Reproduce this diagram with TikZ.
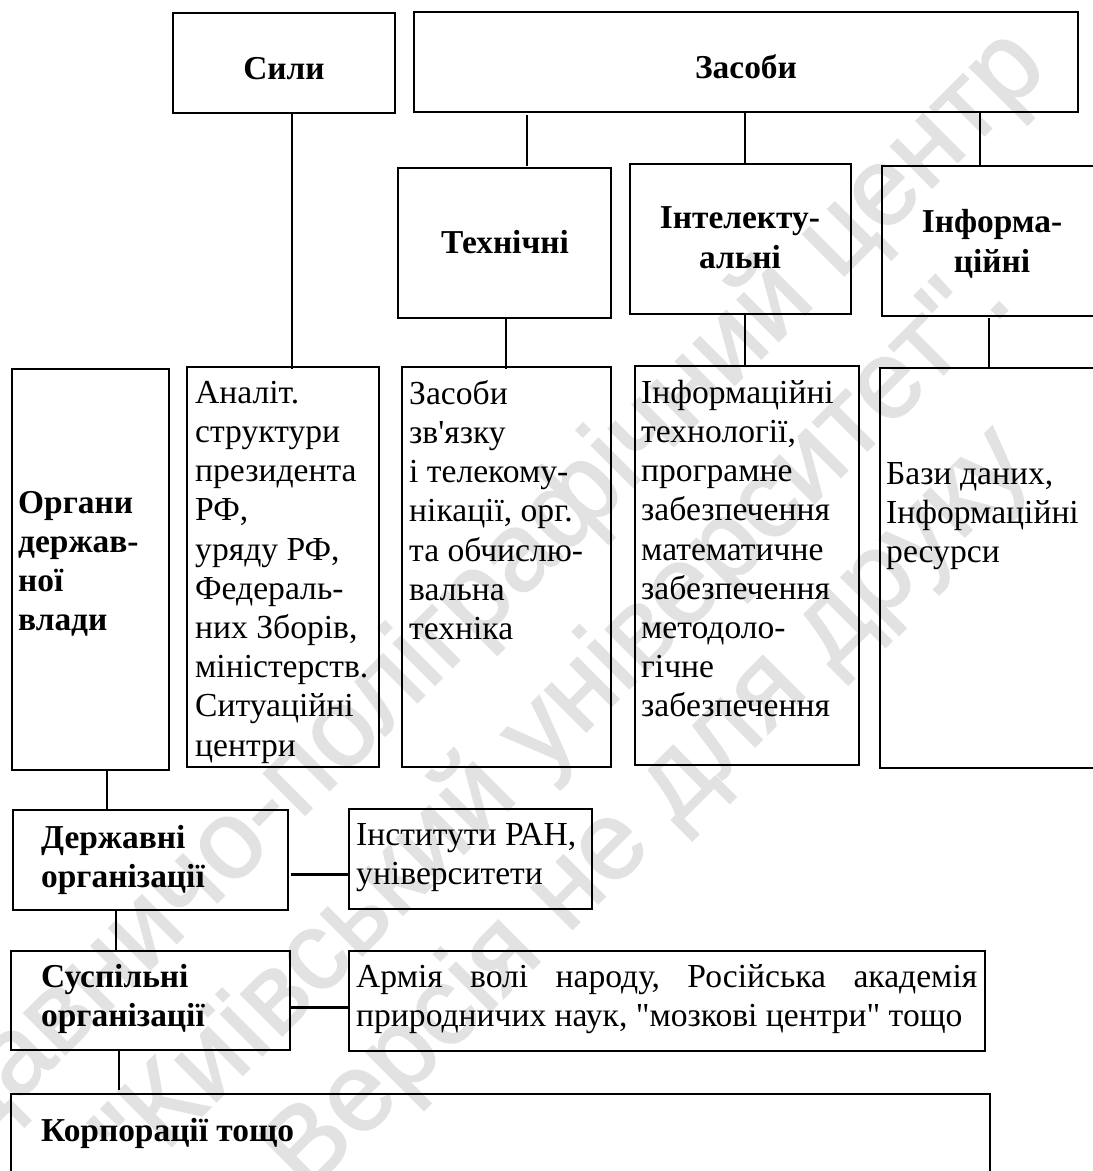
\documentclass[tikz,border=0pt]{standalone}
\usepackage{fontspec}
\setmainfont{Liberation Serif}
\newfontfamily\plainrm{Liberation Serif}
\newfontfamily\wmfont[FakeBold=1.5]{Liberation Sans}
\definecolor{wm}{RGB}{226,226,226}
\newcommand{\tl}{\rule{0pt}{30pt}}
\tikzset{
  x=1pt,y=-1pt,
  box/.style={draw=black,line width=2pt,inner sep=0pt,outer sep=0pt,fill=none},
  link/.style={draw=black,line width=2.6pt},
  lbl/.style={font=\fontsize{33.6}{39.2}\selectfont\plainrm,align=left,anchor=north west,inner sep=0pt,text=black},
  ttl/.style={font=\fontsize{33.4}{40}\selectfont\bfseries,align=center,anchor=north,inner sep=0pt,text=black},
  ttll/.style={font=\fontsize{33.4}{39.2}\selectfont\bfseries,align=left,anchor=north west,inner sep=0pt,text=black},
  wmark/.style={font=\fontsize{111}{111}\selectfont\wmfont,text=wm,inner sep=0pt}
}
\newcommand{\bx}[5]{\node[box,minimum width=#4-#2,minimum height=#5-#3,anchor=north west] (#1) at (#2,#3) {};}
\begin{document}
\begin{tikzpicture}
\useasboundingbox (0,0) rectangle (1093,1171);
\fill[white] (0,0) rectangle (1093,1171);
% watermark
\begin{scope}
\clip (0,0) rectangle (1093,1171);
\node[wmark,rotate=45] (w1) at (441,637) {Видавничо-поліграфічний центр};
\node[wmark,rotate=45] (w2) at (555,721) {"Київський університет".};
\node[wmark,rotate=45] (w3) at (650,811) {Версія не для друку};
\end{scope}
\bx{sily}{173}{13}{395}{113}
\bx{zasoby}{414}{12}{1078}{112}
\bx{tech}{398}{168}{611}{318}
\bx{intel}{630}{164}{851}{314}
\bx{inf}{882}{166}{1100}{316}
\bx{org}{12}{369}{169}{770}
\bx{anal}{187}{367}{379}{767}
\bx{zv}{402}{367}{611}{767}
\bx{it}{635}{366}{859}{765}
\bx{bd}{880}{368}{1100}{768}
\bx{derzh}{13}{810}{288}{910}
\bx{inst}{349}{809}{592}{909}
\bx{susp}{11}{951}{290}{1050}
\bx{army}{349}{951}{985}{1051}
\bx{korp}{11}{1094}{990}{1190}
% titles
\node[ttl] (tsily) at (284,49) {\tl Сили};
\node[ttl] (tzas) at (746,48) {\tl Засоби};
\node[ttl] (ttech) at (505,223) {\tl Технічні};
\node[ttl] (tint) at (740,198) {\tl Інтелекту-\\альні};
\node[ttl] (tinf) at (992,202) {\tl Інформа-\\ційні};
\node[ttll] (torg) at (18,483) {\tl Органи\\держав-\\ної\\влади};
\node[ttll] (tder) at (41,818) {\tl Державні\\організації};
\node[ttll] (tsus) at (41,957) {\tl Суспільні\\організації};
\node[ttll] (tkor) at (41,1111) {\tl Корпорації тощо};
% texts
\node[lbl] (a1) at (195,373) {\tl Аналіт.\\структури\\президента\\РФ,\\уряду РФ,\\Федераль-\\них Зборів,\\міністерств.\\Ситуаційні\\центри};
\node[lbl] (a2) at (409,374) {\tl Засоби\\зв'язку\\і телекому-\\нікації, орг.\\та обчислю-\\вальна\\техніка};
\node[lbl] (a3) at (641,373) {\tl Інформаційні\\технології,\\програмне\\забезпечення\\математичне\\забезпечення\\методоло-\\гічне\\забезпечення};
\node[lbl] (a4) at (886,454) {\tl Бази даних,\\Інформаційні\\ресурси};
\node[lbl] (a5) at (356,815) {\tl Інститути РАН,\\університети};
\node[lbl] (a6) at (356,957) {\tl\hbox to 621pt{Армія\hfill волі\hfill народу,\hfill Російська\hfill академія}\\природничих наук, "мозкові центри" тощо};
% connectors
\draw[link] (292,113) -- (292,369);
\draw[link] (527,115) -- (527,166);
\draw[link] (745,112) -- (745,164);
\draw[link] (980,112) -- (980,166);
\draw[link] (506,318) -- (506,369);
\draw[link] (745,314) -- (745,366);
\draw[link] (989,318) -- (989,369);
\draw[link] (107,770) -- (107,810);
\draw[link] (116,910) -- (116,951);
\draw[link] (119,1050) -- (119,1090);
\draw[link] (291,874.5) -- (349,874.5);
\draw[link] (291,1007.5) -- (349,1007.5);
\end{tikzpicture}
\end{document}
